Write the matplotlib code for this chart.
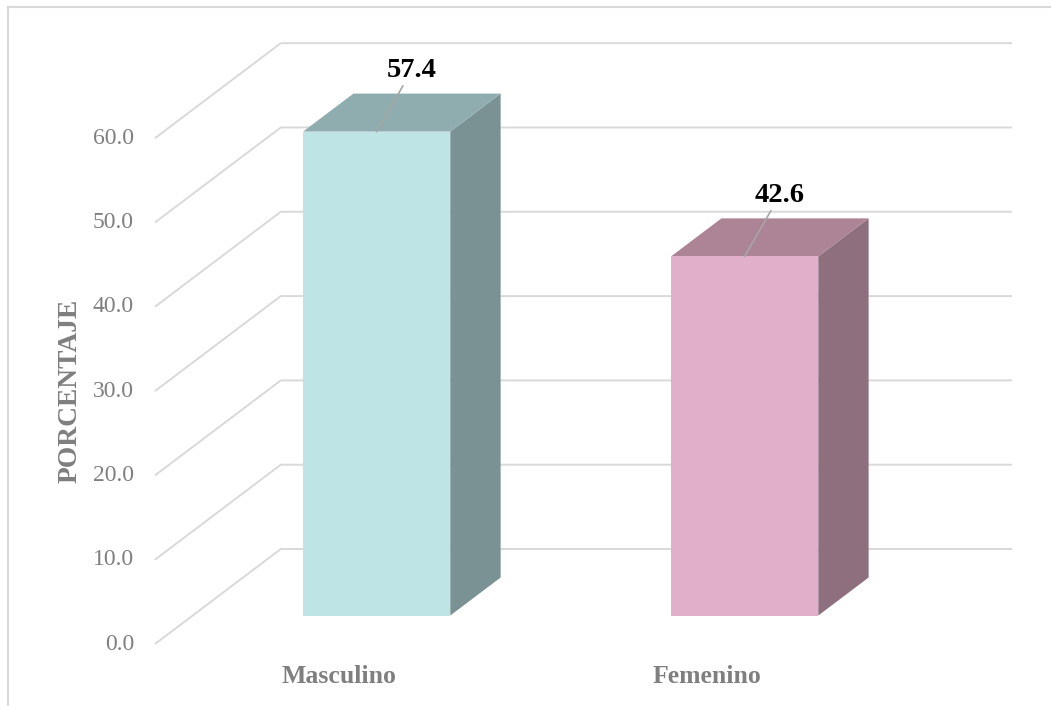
import matplotlib.pyplot as plt
from matplotlib.patches import Polygon
from matplotlib.lines import Line2D

# Datos del grafico
categorias = ['Masculino', 'Femenino']
porcentajes = [57.4, 42.6]
marcas_y = [0, 10, 20, 30, 40, 50, 60]

# Colores de cada cara de las barras 3D
color_frente = ['#BFE4E6', '#E1AFCA']
color_arriba = ['#8FADAE', '#AD8396']
color_lado = ['#7A9293', '#8E6F7E']
gris = '#7F7F7F'

plt.rcParams['font.family'] = ['Liberation Serif', 'DejaVu Serif']

fig = plt.figure(figsize=(10.51, 7.06), dpi=100)
ax = fig.add_axes([0, 0, 1, 1])
ax.set_xlim(-0.921, 1.935)
ax.set_ylim(-7.35, 76.39)
ax.axis('off')

# desplazamiento oblicuo para la profundidad
DX, DY = 0.342, 11.27


def proy(x, y, d):
    return (x + d * DX, y + d * DY)


# lineas de cuadricula: diagonal en el piso lateral y horizontal en la pared del fondo
for v in marcas_y:
    p0 = proy(-0.5, v, 0)
    p1 = proy(-0.5, v, 1)
    p2 = proy(1.487, v, 1)
    ax.plot([p0[0], p1[0], p2[0]], [p0[1], p1[1], p2[1]],
            color='#D9D9D9', lw=1.4, zorder=1, solid_capstyle='butt')
    ax.text(-0.557, v, f'{v:.1f}', ha='right', va='center',
            fontsize=17, color=gris)

# barras 3D
ancho = 0.4
d0, d1 = 0.3, 0.7
for i, v in enumerate(porcentajes):
    x0, x1 = i - ancho / 2, i + ancho / 2
    frente = [proy(x0, 0, d0), proy(x1, 0, d0), proy(x1, v, d0), proy(x0, v, d0)]
    arriba = [proy(x0, v, d0), proy(x1, v, d0), proy(x1, v, d1), proy(x0, v, d1)]
    lado = [proy(x1, 0, d0), proy(x1, 0, d1), proy(x1, v, d1), proy(x1, v, d0)]
    ax.add_patch(Polygon(lado, closed=True, facecolor=color_lado[i], edgecolor='none', zorder=3))
    ax.add_patch(Polygon(arriba, closed=True, facecolor=color_arriba[i], edgecolor='none', zorder=3))
    ax.add_patch(Polygon(frente, closed=True, facecolor=color_frente[i], edgecolor='none', zorder=4))

    # etiqueta de valor con linea guia
    ax.annotate(f'{v:.1f}', xy=proy(i, v, d0), xytext=(35, 61),
                textcoords='offset pixels', ha='center', va='center',
                fontsize=20.5, fontweight='bold', color='black', zorder=6,
                arrowprops=dict(arrowstyle='-', color='#A6A6A6', lw=1.2,
                                shrinkA=0, shrinkB=0))

    ax.text(i, -3.8, categorias[i], ha='center', va='center',
            fontsize=18.5, fontweight='bold', color=gris)

fig.text(0.0666, 0.446, 'PORCENTAJE', rotation=90, ha='center', va='center',
         fontsize=19.8, fontweight='bold', color=gris)

# marco del area del grafico
fig.add_artist(Line2D([8 / 1051, 8 / 1051], [0, 1 - 7 / 706],
                      transform=fig.transFigure, color='#D9D9D9', lw=1.5))
fig.add_artist(Line2D([8 / 1051, 1], [1 - 7 / 706, 1 - 7 / 706],
                      transform=fig.transFigure, color='#D9D9D9', lw=1.5))

fig.savefig('out.png', dpi=100)
